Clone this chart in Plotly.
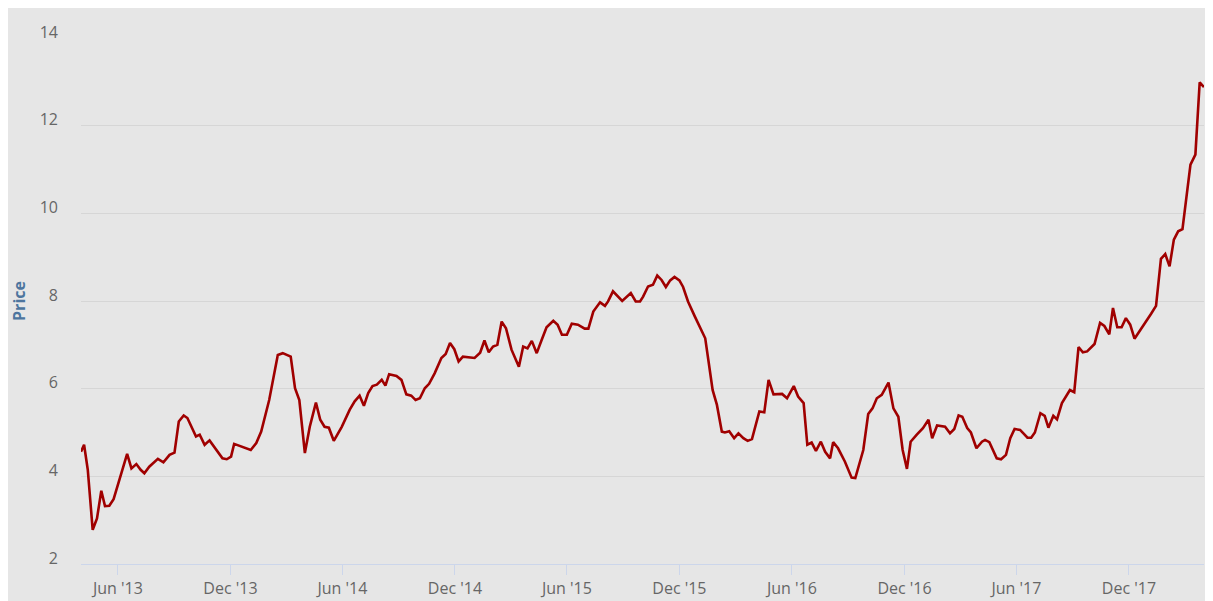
import plotly.graph_objects as go

dates = [
    "2013-04-02", "2013-04-07", "2013-04-13", "2013-04-21", "2013-04-28", "2013-05-05", "2013-05-11", "2013-05-18",
    "2013-05-25", "2013-06-06", "2013-06-16", "2013-06-23", "2013-07-01", "2013-07-08", "2013-07-14", "2013-07-22",
    "2013-08-05", "2013-08-14", "2013-08-24", "2013-09-01", "2013-09-08", "2013-09-16", "2013-09-22", "2013-10-06",
    "2013-10-12", "2013-10-20", "2013-10-28", "2013-11-18", "2013-11-25", "2013-12-02", "2013-12-07", "2014-01-03",
    "2014-01-12", "2014-01-20", "2014-02-02", "2014-02-16", "2014-02-24", "2014-03-09", "2014-03-16", "2014-03-23",
    "2014-04-01", "2014-04-09", "2014-04-19", "2014-04-26", "2014-05-03", "2014-05-10", "2014-05-18", "2014-05-31",
    "2014-06-13", "2014-06-21", "2014-06-29", "2014-07-06", "2014-07-13", "2014-07-20", "2014-07-27", "2014-08-04",
    "2014-08-10", "2014-08-16", "2014-08-28", "2014-09-05", "2014-09-13", "2014-09-21", "2014-09-28", "2014-10-05",
    "2014-10-13", "2014-10-20", "2014-10-29", "2014-11-09", "2014-11-16", "2014-11-23", "2014-11-30", "2014-12-07",
    "2014-12-14", "2015-01-02", "2015-01-11", "2015-01-18", "2015-01-25", "2015-02-01", "2015-02-08", "2015-02-15",
    "2015-02-22", "2015-03-03", "2015-03-15", "2015-03-22", "2015-03-29", "2015-04-05", "2015-04-13", "2015-04-21",
    "2015-04-29", "2015-05-10", "2015-05-17", "2015-05-24", "2015-06-01", "2015-06-09", "2015-06-19", "2015-06-30",
    "2015-07-06", "2015-07-14", "2015-07-25", "2015-08-02", "2015-08-07", "2015-08-15", "2015-08-24", "2015-08-30",
    "2015-09-13", "2015-09-21", "2015-09-28", "2015-10-03", "2015-10-11", "2015-10-19", "2015-10-26", "2015-11-02",
    "2015-11-09", "2015-11-16", "2015-11-23", "2015-12-01", "2015-12-07", "2015-12-15", "2015-12-26", "2016-01-12",
    "2016-01-17", "2016-01-24", "2016-01-31", "2016-02-08", "2016-02-13", "2016-02-20", "2016-02-28", "2016-03-06",
    "2016-03-14", "2016-03-21", "2016-03-28", "2016-04-02", "2016-04-09", "2016-04-17", "2016-04-24", "2016-05-02",
    "2016-05-16", "2016-05-24", "2016-06-04", "2016-06-11", "2016-06-20", "2016-06-26", "2016-07-03", "2016-07-10",
    "2016-07-18", "2016-07-25", "2016-08-02", "2016-08-07", "2016-08-15", "2016-08-26", "2016-09-06", "2016-09-12",
    "2016-09-25", "2016-10-03", "2016-10-10", "2016-10-17", "2016-10-25", "2016-11-05", "2016-11-13", "2016-11-21",
    "2016-11-28", "2016-12-05", "2016-12-11", "2016-12-21", "2016-12-31", "2017-01-09", "2017-01-15", "2017-01-23",
    "2017-02-05", "2017-02-13", "2017-02-20", "2017-02-27", "2017-03-05", "2017-03-13", "2017-03-19", "2017-03-28",
    "2017-04-06", "2017-04-11", "2017-04-18", "2017-04-30", "2017-05-07", "2017-05-15", "2017-05-22", "2017-05-29",
    "2017-06-07", "2017-06-19", "2017-06-25", "2017-07-01", "2017-07-10", "2017-07-17", "2017-07-23", "2017-07-31",
    "2017-08-06", "2017-08-14", "2017-08-27", "2017-09-03", "2017-09-10", "2017-09-17", "2017-09-24", "2017-10-06",
    "2017-10-15", "2017-10-22", "2017-10-30", "2017-11-05", "2017-11-12", "2017-11-19", "2017-11-26", "2017-12-03",
    "2017-12-10", "2018-01-06", "2018-01-14", "2018-01-22", "2018-01-29", "2018-02-05", "2018-02-12", "2018-02-19",
    "2018-02-26", "2018-03-11", "2018-03-19", "2018-03-26", "2018-04-02",
]

prices = [
    4.56, 4.72, 4.15, 2.78, 3.04, 3.67, 3.32, 3.33,
    3.48, 4.07, 4.51, 4.18, 4.28, 4.15, 4.07, 4.22,
    4.40, 4.32, 4.49, 4.54, 5.25, 5.39, 5.33, 4.91,
    4.95, 4.72, 4.82, 4.41, 4.39, 4.45, 4.74, 4.60,
    4.76, 5.02, 5.74, 6.77, 6.81, 6.73, 6.01, 5.74,
    4.53, 5.13, 5.68, 5.29, 5.13, 5.11, 4.81, 5.13,
    5.52, 5.71, 5.84, 5.61, 5.90, 6.06, 6.09, 6.20,
    6.07, 6.33, 6.29, 6.20, 5.87, 5.84, 5.74, 5.78,
    6.01, 6.11, 6.35, 6.70, 6.79, 7.04, 6.90, 6.62,
    6.73, 6.70, 6.82, 7.10, 6.83, 6.96, 7.00, 7.53,
    7.38, 6.89, 6.50, 6.96, 6.92, 7.09, 6.81, 7.11,
    7.40, 7.55, 7.46, 7.23, 7.23, 7.48, 7.46, 7.37,
    7.37, 7.76, 7.97, 7.89, 7.99, 8.22, 8.10, 8.00,
    8.18, 7.99, 7.99, 8.10, 8.33, 8.37, 8.58, 8.48,
    8.32, 8.47, 8.55, 8.47, 8.32, 7.99, 7.65, 7.15,
    6.66, 5.97, 5.63, 5.02, 5.00, 5.03, 4.87, 4.98,
    4.87, 4.81, 4.85, 5.10, 5.48, 5.46, 6.20, 5.87,
    5.88, 5.78, 6.06, 5.82, 5.67, 4.72, 4.77, 4.58,
    4.79, 4.56, 4.41, 4.78, 4.64, 4.34, 3.97, 3.96,
    4.60, 5.42, 5.55, 5.78, 5.86, 6.14, 5.55, 5.36,
    4.60, 4.17, 4.79, 4.95, 5.10, 5.29, 4.87, 5.16,
    5.13, 4.98, 5.08, 5.39, 5.36, 5.10, 5.00, 4.64,
    4.79, 4.83, 4.78, 4.41, 4.39, 4.49, 4.87, 5.08,
    5.06, 4.88, 4.88, 5.00, 5.44, 5.38, 5.11, 5.38,
    5.30, 5.67, 5.97, 5.92, 6.95, 6.83, 6.85, 7.02,
    7.50, 7.43, 7.24, 7.84, 7.40, 7.40, 7.61, 7.46,
    7.14, 7.71, 7.89, 8.96, 9.07, 8.79, 9.40, 9.59,
    9.64, 11.11, 11.34, 12.99, 12.88,
]

y_ticks = [2, 4, 6, 8, 10, 12, 14]

BG = "#e6e6e6"
FONT = "Open Sans, DejaVu Sans, sans-serif"

fig = go.Figure()
fig.add_trace(go.Scatter(
    x=dates, y=prices, mode="lines",
    line=dict(color="#a00000", width=2.6),
    hoverinfo="x+y", showlegend=False,
))

fig.update_layout(
    width=1205, height=593,
    margin=dict(l=73, r=9, t=30, b=37, autoexpand=False),
    paper_bgcolor=BG, plot_bgcolor=BG,
    font=dict(family=FONT, size=16, color="#666666"),
    xaxis=dict(
        range=[dates[0], dates[-1]], automargin=False,
        tick0="2013-06-01", dtick="M6", tickformat="%b '%y",
        showgrid=False, zeroline=False,
        showline=True, linecolor="#ccd6eb", linewidth=1,
        ticks="outside", ticklen=10, tickcolor="#ccd6eb", tickwidth=1,
        tickfont=dict(family=FONT, size=16, color="#666666"),
    ),
    yaxis=dict(
        range=[2, 14], tickvals=y_ticks, automargin=False,
        showgrid=True, gridcolor="#d6d6d6", gridwidth=1,
        zeroline=False, showline=False, ticks="",
        ticklabelshift=-6, ticklabelstandoff=22,
        tickfont=dict(family=FONT, size=16, color="#666666"),
        title=dict(text="<b>Price</b>", standoff=14,
                   font=dict(family=FONT, size=16, color="#4d759e")),
    ),
)

fig.write_html("out.html")
